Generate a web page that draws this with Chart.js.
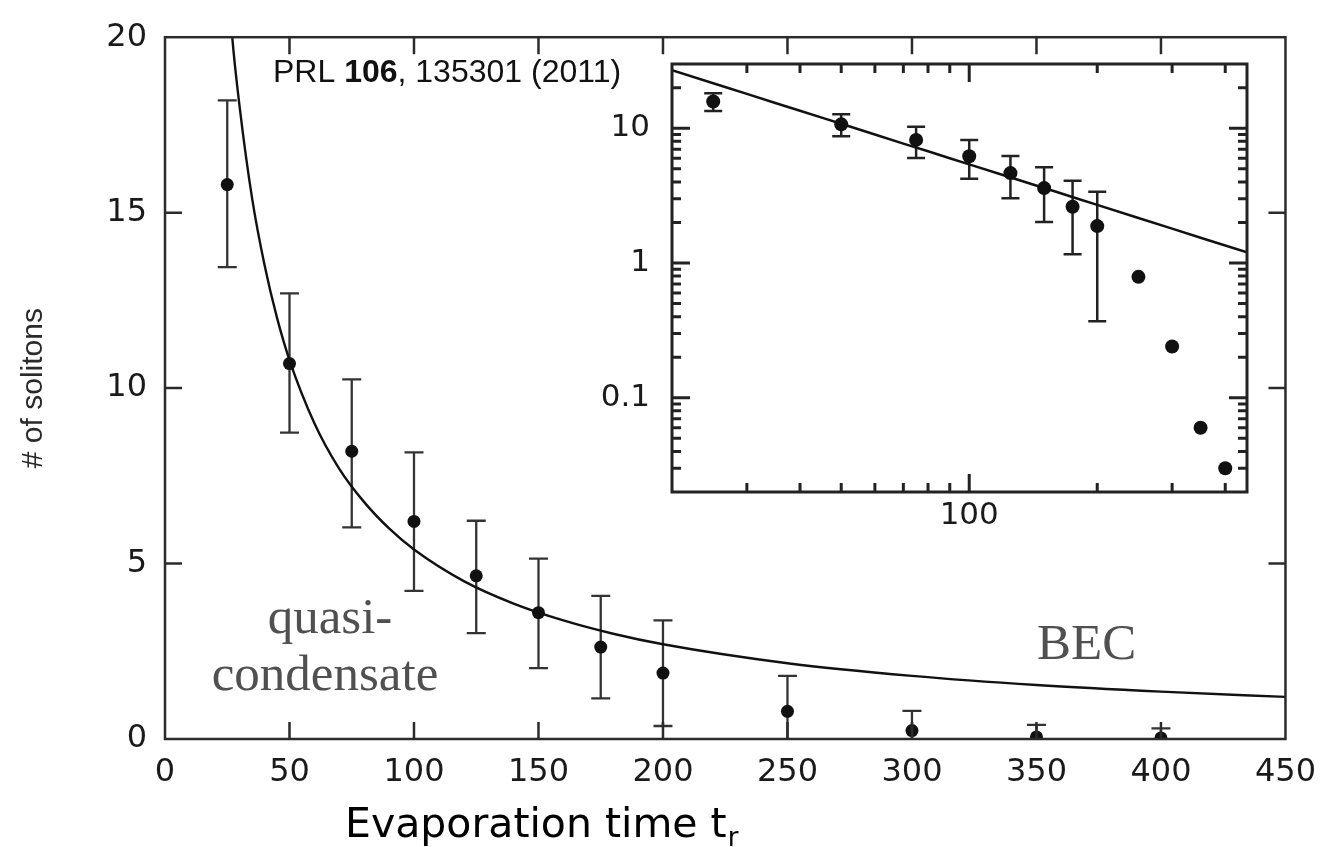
<!DOCTYPE html>
<html><head><meta charset="utf-8">
<script src="https://cdn.jsdelivr.net/npm/chart.js@4.4.1/dist/chart.umd.min.js"></script>
<style>
html,body{margin:0;padding:0;background:#fff;}
#wrap{position:relative;width:1330px;height:847px;overflow:hidden;}
canvas{position:absolute;left:0;top:0;}
</style></head><body>
<div id="wrap"><canvas id="main" width="1330" height="847"></canvas><canvas id="inset" width="1330" height="847"></canvas></div>
<script>
// ---- data ----
const times      = [25, 50, 75, 100, 125, 150, 175, 200, 250, 300, 350, 400];
const solitons   = [15.8, 10.7, 8.2, 6.2, 4.65, 3.6, 2.62, 1.88, 0.79, 0.24, 0.06, 0.03];
const errUpper   = [18.2, 12.7, 10.25, 8.17, 6.22, 5.14, 4.08, 3.38, 1.8, 0.8, 0.4, 0.3];
const errLower   = [13.45, 8.73, 6.03, 4.22, 3.02, 2.02, 1.16, 0.37, -1, -1, -1, -1];
const insetErrorBarCount = 8;   // inset shows error bars only for the first 8 points
const fitTimes   = [20, 27, 30, 35, 40, 45, 50, 60, 70, 80, 90, 100, 120, 140, 160, 180, 200, 250, 300, 350, 400, 450];
const fitValues  = [27, 20, 18, 15.4, 13.5, 12, 10.8, 9, 7.7, 6.75, 6, 5.4, 4.5, 3.86, 3.38, 3.0, 2.7, 2.16, 1.8, 1.54, 1.35, 1.2];
const mainXTicks = [0, 50, 100, 150, 200, 250, 300, 350, 400, 450];
const mainYTicks = [0, 5, 10, 15, 20];
const insetXLabels = [100];
const insetYLabels = [0.1, 1, 10];
const citation = ["PRL ", "106", ", 135301 (2011)"];
const xTitle = ["Evaporation time t", "r"];
const yTitle = "# of solitons";
const regionLabels = {quasi: ["quasi-", "condensate"], bec: "BEC"};

const SANS = "'Liberation Sans', Arial, Helvetica, sans-serif";
const WIDE = "'DejaVu Sans', 'Liberation Sans', sans-serif";
const SERIF = "'Liberation Serif', 'Times New Roman', serif";

function toPoints(xs, ys){ return xs.map((v,i)=>({x:v, y:ys[i]})); }

function makeErrorBarPlugin(count, capHalf, lw, color){
  return {
    id:'errbars',
    beforeDatasetsDraw(chart){
      const {ctx, chartArea:a, scales:{x,y}} = chart;
      ctx.save();
      ctx.beginPath(); ctx.rect(a.left, a.top, a.right-a.left, a.bottom-a.top); ctx.clip();
      ctx.strokeStyle = color; ctx.lineWidth = lw;
      for (let i=0;i<count;i++){
        const px = x.getPixelForValue(times[i]);
        const hi = y.getPixelForValue(errUpper[i]);
        const loV = errLower[i];
        const lo = (y.type === 'logarithmic' && loV <= 0) ? a.bottom + 20 : y.getPixelForValue(loV);
        ctx.beginPath();
        ctx.moveTo(px, hi); ctx.lineTo(px, lo);
        ctx.moveTo(px-capHalf, hi); ctx.lineTo(px+capHalf, hi);
        ctx.moveTo(px-capHalf, lo); ctx.lineTo(px+capHalf, lo);
        ctx.stroke();
      }
      ctx.restore();
    }
  };
}

function makeFramePlugin(opt){
  return {
    id:'frame',
    beforeDraw(chart){
      if (!opt.fill) return;
      const {ctx, chartArea:a} = chart;
      ctx.save(); ctx.fillStyle = '#fff';
      ctx.fillRect(a.left, a.top, a.right-a.left, a.bottom-a.top);
      ctx.restore();
    },
    afterDraw(chart){
      const {ctx, chartArea:a, scales:{x,y}} = chart;
      ctx.save();
      ctx.strokeStyle = opt.color; ctx.lineWidth = opt.lw;
      ctx.beginPath();
      opt.xTicks.forEach(t=>{
        const px = x.getPixelForValue(t.v);
        if (px <= a.left+1 || px >= a.right-1) return;
        ctx.moveTo(px, a.bottom); ctx.lineTo(px, a.bottom - t.len);
        ctx.moveTo(px, a.top); ctx.lineTo(px, a.top + t.len);
      });
      opt.yTicks.forEach(t=>{
        const py = y.getPixelForValue(t.v);
        if (py <= a.top+1 || py >= a.bottom-1) return;
        ctx.moveTo(a.left, py); ctx.lineTo(a.left + t.len, py);
        ctx.moveTo(a.right, py); ctx.lineTo(a.right - t.len, py);
      });
      ctx.stroke();
      ctx.lineWidth = opt.frameLw;
      ctx.strokeRect(a.left, a.top, a.right-a.left, a.bottom-a.top);
      ctx.restore();
    }
  };
}

const annotationPlugin = {
  id:'annot',
  afterDraw(chart){
    const {ctx} = chart;
    ctx.save();
    ctx.textBaseline = 'alphabetic';
    // citation
    let cx = 273;
    const cy = 82;
    ctx.fillStyle = '#111';
    ctx.font = "32px " + SANS; ctx.fillText(citation[0], cx, cy); cx += ctx.measureText(citation[0]).width;
    ctx.font = "bold 32px " + SANS; ctx.fillText(citation[1], cx, cy); cx += ctx.measureText(citation[1]).width;
    ctx.font = "32px " + SANS; ctx.fillText(citation[2], cx, cy);
    // region labels
    ctx.fillStyle = '#505050';
    ctx.font = "51px " + SERIF;
    ctx.textAlign = 'center';
    ctx.fillText(regionLabels.quasi[0], 330, 633);
    ctx.fillText(regionLabels.quasi[1], 325, 690);
    ctx.textAlign = 'left';
    ctx.fillText(regionLabels.bec, 1037, 659);
    // x-axis title with subscript
    ctx.fillStyle = '#000';
    ctx.font = "41px " + WIDE;
    ctx.fillText(xTitle[0], 345, 837);
    const w = ctx.measureText(xTitle[0]).width;
    ctx.font = "26px " + WIDE;
    ctx.fillText(xTitle[1], 345 + w + 1, 846);
    ctx.restore();
  }
};

// ---- main chart ----
const mainTickMarks = {
  x: mainXTicks.map(v=>({v, len:17})),
  y: mainYTicks.map(v=>({v, len:17}))
};

new Chart(document.getElementById('main'), {
  type:'scatter',
  data:{datasets:[
    {data: toPoints(fitTimes, fitValues), showLine:true, borderColor:'#111', borderWidth:2.4,
     pointRadius:0, cubicInterpolationMode:'monotone', fill:false},
    {data: toPoints(times, solitons), pointRadius:6.5, pointBackgroundColor:'#111', pointBorderWidth:0, showLine:false}
  ]},
  options:{
    responsive:false, animation:false, devicePixelRatio:1,
    layout:{padding:{left:0, top:22, right:42, bottom:0}},
    plugins:{legend:{display:false}, tooltip:{enabled:false}},
    scales:{
      x:{type:'linear', min:0, max:450,
         grid:{display:false, drawTicks:false}, border:{display:false},
         afterBuildTicks(s){ s.ticks = mainXTicks.map(v=>({value:v})); },
         afterFit(s){ s.height = 108; },
         ticks:{font:{family:WIDE, size:32}, color:'#1a1a1a', padding:14, maxRotation:0, autoSkip:false}},
      y:{type:'linear', min:0, max:20,
         grid:{display:false, drawTicks:false}, border:{display:false},
         afterBuildTicks(s){ s.ticks = mainYTicks.map(v=>({value:v})); },
         afterFit(s){ s.width = 165; },
         title:{display:true, text:yTitle, font:{family:SANS, size:30}, color:'#2a2a2a', padding:{top:16, bottom:0}},
         ticks:{font:{family:WIDE, size:32}, color:'#1a1a1a', padding:18, autoSkip:false}}
    }
  },
  plugins:[makeErrorBarPlugin(times.length, 9.5, 2.3, '#333'),
           makeFramePlugin({color:'#2b2b2b', lw:2.5, frameLw:2.5, xTicks:mainTickMarks.x, yTicks:mainTickMarks.y}),
           annotationPlugin]
});

// ---- inset (log-log) ----
function logTickMarks(min, max, majorLen, minorLen){
  const out = [];
  for (let e = -3; e <= 4; e++){
    for (let m = 1; m <= 9; m++){
      const v = m * Math.pow(10, e);
      if (v > min*1.0001 && v < max*0.9999) out.push({v, len: m===1 ? majorLen : minorLen});
    }
  }
  return out;
}

new Chart(document.getElementById('inset'), {
  type:'scatter',
  data:{datasets:[
    {data: toPoints(fitTimes, fitValues), showLine:true, borderColor:'#111', borderWidth:2.5,
     pointRadius:0, tension:0, fill:false},
    {data: toPoints(times, solitons), pointRadius:7, pointBackgroundColor:'#111', pointBorderWidth:0, showLine:false}
  ]},
  options:{
    responsive:false, animation:false, devicePixelRatio:1,
    layout:{padding:{left:592, top:64, right:83, bottom:295}},
    plugins:{legend:{display:false}, tooltip:{enabled:false}},
    scales:{
      x:{type:'logarithmic', min:20, max:450,
         grid:{display:false, drawTicks:false}, border:{display:false},
         afterBuildTicks(s){ s.ticks = insetXLabels.map(v=>({value:v, major:true})); },
         afterFit(s){ s.height = 60; },
         ticks:{font:{family:WIDE, size:31}, color:'#1a1a1a', padding:5, maxRotation:0, autoSkip:false,
                callback:(v)=>String(v)}},
      y:{type:'logarithmic', min:0.02, max:30,
         grid:{display:false, drawTicks:false}, border:{display:false},
         afterBuildTicks(s){ s.ticks = insetYLabels.map(v=>({value:v, major:true})); },
         afterFit(s){ s.width = 80; },
         ticks:{font:{family:WIDE, size:31}, color:'#1a1a1a', padding:22, autoSkip:false,
                callback:(v)=>String(v)}}
    }
  },
  plugins:[makeErrorBarPlugin(insetErrorBarCount, 9, 2.5, '#222'),
           makeFramePlugin({fill:true, color:'#222', lw:3, frameLw:3,
             xTicks:logTickMarks(20, 450, 18, 9), yTicks:logTickMarks(0.02, 30, 18, 9)})]
});
</script>
</body></html>
